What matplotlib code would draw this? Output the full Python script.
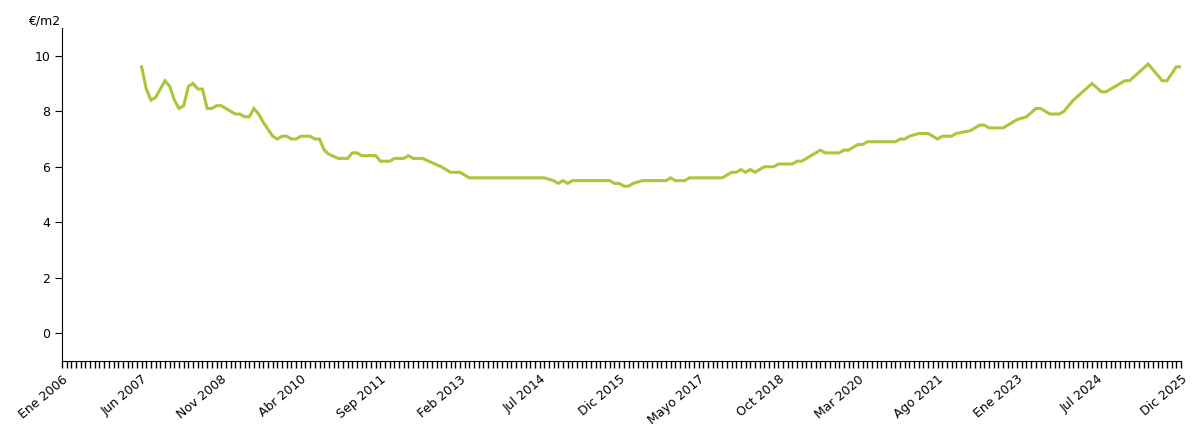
import matplotlib
matplotlib.use("Agg")
import matplotlib.pyplot as plt
import numpy as np

month_idx = [17,18,19,20,22,23,24,25,26,27,28,29,30,31,32,33,34,36,37,38,39,40,41,42,43,45,46,47,48,49,50,51,53,54,55,56,57,59,61,62,63,64,67,68,70,71,73,74,75,77,81,82,83,85,87,103,105,106,107,108,109,117,118,119,120,121,122,124,129,130,131,133,134,141,143,144,145,146,147,148,150,152,153,156,157,158,160,162,163,166,167,168,170,171,172,178,179,180,181,183,185,187,188,190,191,194,196,197,198,201,203,204,206,208,209,211,213,214,216,218,220,222,223,225,227,228,230,232,235,236,238,239]
values = [9.6,8.8,8.4,8.5,9.1,8.9,8.4,8.1,8.2,8.9,9.0,8.8,8.8,8.1,8.1,8.2,8.2,8.0,7.9,7.9,7.8,7.8,8.1,7.9,7.6,7.1,7.0,7.1,7.1,7.0,7.0,7.1,7.1,7.0,7.0,6.6,6.45,6.3,6.3,6.5,6.5,6.4,6.4,6.2,6.2,6.3,6.3,6.4,6.3,6.3,6.0,5.9,5.8,5.8,5.6,5.6,5.5,5.4,5.5,5.4,5.5,5.5,5.4,5.4,5.3,5.3,5.4,5.5,5.5,5.6,5.5,5.5,5.6,5.6,5.8,5.8,5.9,5.8,5.9,5.8,6.0,6.0,6.1,6.1,6.2,6.2,6.4,6.6,6.5,6.5,6.6,6.6,6.8,6.8,6.9,6.9,7.0,7.0,7.1,7.2,7.2,7.0,7.1,7.1,7.2,7.3,7.5,7.5,7.4,7.4,7.6,7.7,7.8,8.1,8.1,7.9,7.9,8.0,8.4,8.7,9.0,8.7,8.7,8.9,9.1,9.1,9.4,9.7,9.1,9.1,9.6,9.6]

tick_pos = [0,17,34,51,68,85,102,119,136,153,170,187,204,221,239]
tick_labels = ["Ene 2006","Jun 2007","Nov 2008","Abr 2010","Sep 2011","Feb 2013","Jul 2014",
               "Dic 2015","Mayo 2017","Oct 2018","Mar 2020","Ago 2021","Ene 2023","Jul 2024","Dic 2025"]
y_ticks = [0,2,4,6,8,10]

fig = plt.figure(figsize=(12,4.3), dpi=100)
ax = fig.add_axes([62/1200, 1-361/430, (1181-62)/1200, (361-28)/430])
ax.plot(month_idx, values, color="#a8c83a", lw=2.2, solid_joinstyle="miter")
ax.set_xlim(0, 239)
ax.set_ylim(-1, 11)
ax.set_yticks(y_ticks)
ax.set_xticks(tick_pos)
ax.set_xticklabels(tick_labels, rotation=40, ha="right", rotation_mode="anchor", fontsize=9)
ax.set_xticks(np.arange(0, 240), minor=True)
ax.tick_params(axis="x", which="both", length=5, width=1, direction="out")
ax.tick_params(axis="y", length=5, labelsize=9)
for s in ["top","right"]:
    ax.spines[s].set_visible(False)
ax.text(-0.03, 1.0, "€/m2", transform=ax.transAxes, ha="left", va="bottom", fontsize=9)
fig.savefig("out.png", dpi=100)
